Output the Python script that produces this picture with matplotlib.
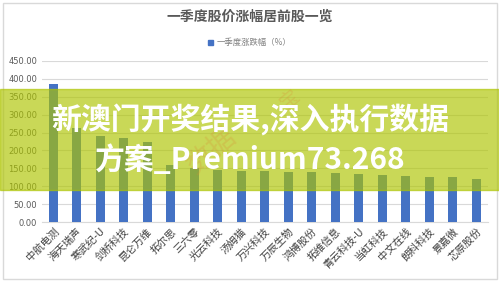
import matplotlib
matplotlib.use("Agg")
import matplotlib.pyplot as plt
from matplotlib.patches import Rectangle

plt.rcParams['font.family'] = ['Noto Sans CJK SC', 'DejaVu Sans']

title = "一季度股价涨幅居前股一览"
legend_label = "一季度涨跌幅（%）"
categories = ["中航电测", "海天瑞声", "寒武纪-U", "剑桥科技", "昆仑万维", "拓尔思", "三六零",
              "光云科技", "汤姆猫", "万兴科技", "万辰生物", "鸿博股份", "拓维信息", "青云科技-U",
              "当虹科技", "中文在线", "朗科科技", "景嘉微", "芯原股份"]
values = [386, 262, 240, 235, 223, 160, 150, 145, 142, 142, 141, 140, 137, 134, 131, 128, 127, 125, 120]
yticks = [0, 50, 100, 150, 200, 250, 300, 350, 400, 450]
banner_lines = ["新澳门开奖结果,深入执行数据", "方案_Premium73.268"]

W, H = 499, 281
fig = plt.figure(figsize=(W / 100, H / 100), dpi=100)
fig.patch.set_facecolor("white")

ax = fig.add_axes([41.5 / W, 1 - 222 / H, (488 - 41.5) / W, (222 - 61) / H])
x = list(range(len(categories)))
ax.bar(x, values, width=0.4, color="#4472c4", zorder=3)
ax.set_xlim(-0.5, len(categories) - 0.5)
ax.set_ylim(0, 450)
ax.set_yticks(yticks)
ax.set_yticklabels([f"{v:.2f}" for v in yticks], fontsize=6, color="#595959",
                   family=['DejaVu Sans'])
ax.set_xticks(x)
ax.set_xticklabels(categories, rotation=45, ha="right", rotation_mode="anchor",
                   fontsize=7.5, color="#404040")
ax.tick_params(axis="both", length=0, pad=3)
ax.grid(axis="y", color="#d9d9d9", lw=0.8, zorder=0)
for s in ["top", "right", "left"]:
    ax.spines[s].set_visible(False)
ax.spines["bottom"].set_color("#d9d9d9")
ax.set_facecolor("white")

fig.text(250 / W, 1 - 17 / H, title, ha="center", va="center", fontsize=10,
         color="#595959", fontweight="bold")
fig.patches.append(Rectangle((208 / W, 1 - 45 / H), 5 / W, 5 / H,
                             transform=fig.transFigure, color="#4472c4"))
fig.text(217 / W, 1 - 42.5 / H, legend_label, ha="left", va="center", fontsize=6,
         color="#7f7f7f")

# outer frame
fig.patches.append(Rectangle((2.5 / W, 2.5 / H), (W - 5) / W, (H - 5) / H,
                             transform=fig.transFigure, fill=False,
                             edgecolor="#d9d9d9", lw=1))

# overlay banner
fig.patches.append(Rectangle((0, 1 - 190 / H), 1, 101 / H, transform=fig.transFigure,
                             color=(0.68, 0.77, 0.0), alpha=0.66, zorder=5))
# watermark
fig.text(212 / W, 1 - 150 / H, "数据", ha="center", va="center", fontsize=20,
         rotation=40, color=(0.85, 0.55, 0.2), alpha=0.25, zorder=6)
fig.text(290 / W, 1 - 100 / H, "宝", ha="center", va="center", fontsize=14,
         rotation=40, color=(0.85, 0.55, 0.2), alpha=0.25, zorder=6)

fig.text(250 / W, 1 - 120 / H, banner_lines[0], ha="center", va="center", fontsize=21.5,
         color="white", fontweight="bold", zorder=7)
fig.text(250 / W, 1 - 160 / H, banner_lines[1], ha="center", va="center", fontsize=21.5,
         color="white", fontweight="bold", zorder=7)

fig.savefig("out.png", dpi=100)
